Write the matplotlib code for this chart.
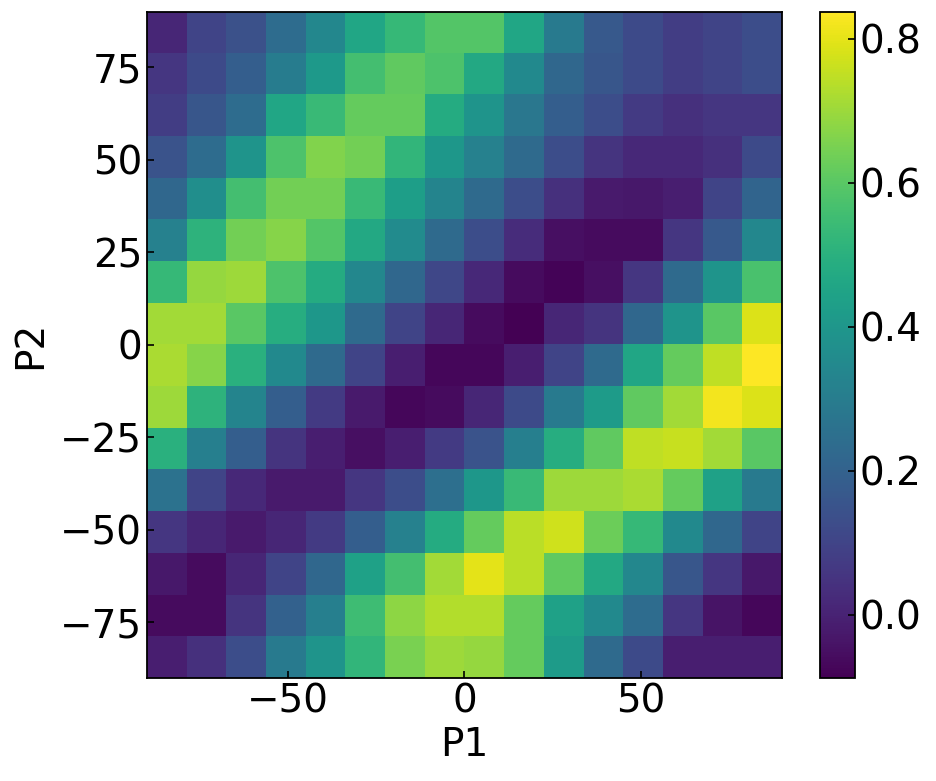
import numpy as np
import matplotlib
matplotlib.use("Agg")
import matplotlib.pyplot as plt

# axis ranges (cells are 16 x 16 over -90..90)
p1_range = [-90, 90]
p2_range = [-90, 90]

# cell values, top row (P2 high) first, left column (P1 low) first
values = [
    [0.01, 0.10, 0.14, 0.24, 0.34, 0.46, 0.53, 0.59, 0.59, 0.46, 0.29, 0.17, 0.12, 0.08, 0.10, 0.13],
    [0.06, 0.12, 0.19, 0.30, 0.41, 0.56, 0.61, 0.58, 0.47, 0.35, 0.22, 0.16, 0.12, 0.08, 0.10, 0.13],
    [0.08, 0.16, 0.24, 0.46, 0.54, 0.62, 0.62, 0.48, 0.39, 0.28, 0.19, 0.13, 0.07, 0.04, 0.06, 0.06],
    [0.15, 0.24, 0.39, 0.58, 0.66, 0.64, 0.52, 0.40, 0.32, 0.23, 0.13, 0.05, 0.02, 0.02, 0.04, 0.12],
    [0.22, 0.37, 0.56, 0.64, 0.64, 0.54, 0.43, 0.33, 0.23, 0.13, 0.04, -0.02, -0.03, -0.01, 0.10, 0.21],
    [0.32, 0.51, 0.64, 0.67, 0.59, 0.47, 0.36, 0.23, 0.13, 0.03, -0.05, -0.06, -0.06, 0.06, 0.17, 0.34],
    [0.53, 0.69, 0.70, 0.58, 0.48, 0.34, 0.22, 0.11, 0.02, -0.06, -0.08, -0.05, 0.06, 0.23, 0.39, 0.57],
    [0.71, 0.71, 0.60, 0.49, 0.40, 0.23, 0.10, 0.01, -0.06, -0.088, 0.01, 0.05, 0.22, 0.39, 0.60, 0.79],
    [0.72, 0.67, 0.50, 0.35, 0.23, 0.10, -0.01, -0.07, -0.07, -0.01, 0.10, 0.23, 0.46, 0.62, 0.75, 0.837],
    [0.70, 0.51, 0.33, 0.19, 0.07, -0.02, -0.07, -0.06, 0.01, 0.12, 0.29, 0.42, 0.61, 0.71, 0.82, 0.79],
    [0.50, 0.31, 0.19, 0.05, -0.01, -0.05, -0.01, 0.07, 0.15, 0.31, 0.49, 0.61, 0.75, 0.76, 0.71, 0.60],
    [0.26, 0.10, 0.02, -0.02, -0.02, 0.06, 0.13, 0.25, 0.40, 0.54, 0.70, 0.70, 0.72, 0.62, 0.44, 0.29],
    [0.06, 0.01, -0.02, 0.01, 0.07, 0.19, 0.32, 0.48, 0.62, 0.74, 0.77, 0.63, 0.53, 0.35, 0.22, 0.10],
    [-0.03, -0.06, 0.01, 0.10, 0.22, 0.44, 0.56, 0.71, 0.80, 0.74, 0.61, 0.47, 0.34, 0.16, 0.06, -0.03],
    [-0.06, -0.06, 0.05, 0.20, 0.31, 0.55, 0.68, 0.73, 0.73, 0.62, 0.44, 0.35, 0.24, 0.06, -0.04, -0.07],
    [-0.01, 0.04, 0.13, 0.29, 0.39, 0.52, 0.65, 0.70, 0.69, 0.62, 0.42, 0.23, 0.12, -0.01, -0.01, -0.01],
]

x_ticks = [-50, 0, 50]
y_ticks = [-75, -50, -25, 0, 25, 50, 75]
cbar_ticks = [0.0, 0.2, 0.4, 0.6, 0.8]

plt.rcParams['font.size'] = 28

fig = plt.figure(figsize=(9.36, 7.81), dpi=100)
ax = fig.add_axes([0.157, 0.1319, 0.6784, 0.8528])
cax = fig.add_axes([0.8766, 0.1319, 0.0369, 0.8528])

im = ax.imshow(np.array(values), cmap='viridis', aspect='auto',
               extent=[p1_range[0], p1_range[1], p2_range[0], p2_range[1]],
               interpolation='nearest')
ax.set_xticks(x_ticks)
ax.set_yticks(y_ticks)
ax.set_xlabel("P1", labelpad=4)
ax.set_ylabel("P2", labelpad=8)
ax.tick_params(direction='in', length=5, width=1.2)
for s in ax.spines.values():
    s.set_linewidth(1.3)

cb = fig.colorbar(im, cax=cax)
cb.set_ticks(cbar_ticks)
cb.ax.tick_params(direction='in', length=5, width=1.2)
cb.outline.set_linewidth(1.3)

fig.savefig("out.png", dpi=100)
